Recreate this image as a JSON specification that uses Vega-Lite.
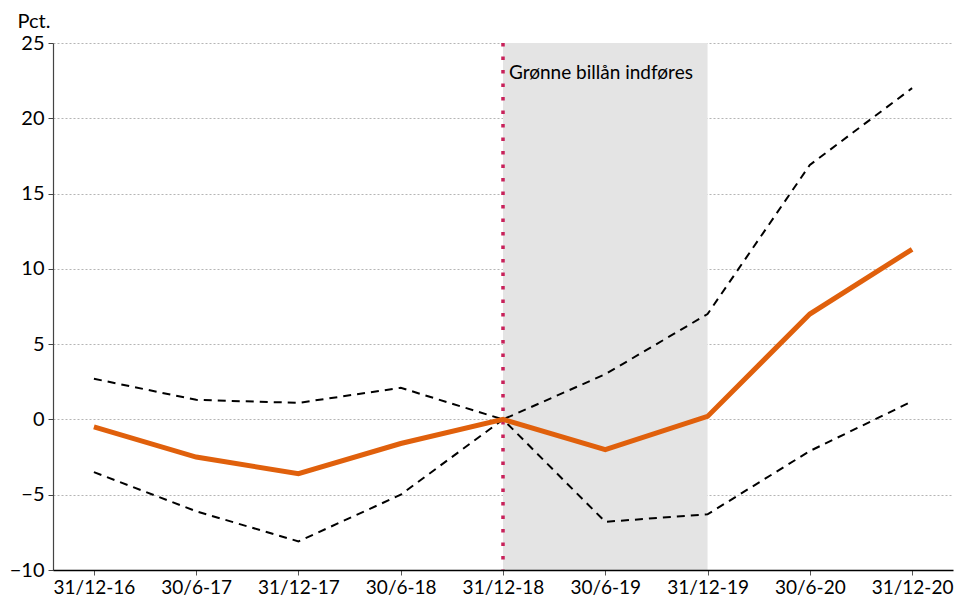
{
  "$schema": "https://vega.github.io/schema/vega-lite/v6.json",
  "width": 900,
  "height": 527,
  "autosize": {"type": "none"},
  "padding": {"left": 53, "top": 43, "right": 2, "bottom": 31},
  "background": "white",
  "config": {
    "view": {"stroke": null},
    "font": "Lato",
    "axis": {"labelFont": "Lato", "titleFont": "Lato"}
  },
  "datasets": {
    "series": [
      {"date": "31/12-16", "mid": -0.5, "upper": 2.7, "lower": -3.5},
      {"date": "30/6-17", "mid": -2.5, "upper": 1.3, "lower": -6.1},
      {"date": "31/12-17", "mid": -3.6, "upper": 1.1, "lower": -8.1},
      {"date": "30/6-18", "mid": -1.6, "upper": 2.1, "lower": -5.0},
      {"date": "31/12-18", "mid": 0.0, "upper": 0.0, "lower": 0.0},
      {"date": "30/6-19", "mid": -2.0, "upper": 3.0, "lower": -6.8},
      {"date": "31/12-19", "mid": 0.2, "upper": 7.0, "lower": -6.3},
      {"date": "30/6-20", "mid": 7.0, "upper": 16.9, "lower": -2.1},
      {"date": "31/12-20", "mid": 11.3, "upper": 22.0, "lower": 1.2}
    ],
    "period": [{"start": "31/12-18", "end": "31/12-19", "label": "Grønne billån indføres"}]
  },
  "encoding": {
    "x": {
      "field": "date",
      "type": "ordinal",
      "sort": null,
      "scale": {"type": "point", "padding": 0.4, "domain": ["31/12-16", "30/6-17", "31/12-17", "30/6-18", "31/12-18", "30/6-19", "31/12-19", "30/6-20", "31/12-20"]},
      "axis": {
        "title": null,
        "labelAngle": 0,
        "labelFontSize": 19,
        "labelColor": "#000",
        "labelPadding": 3,
        "domainColor": "#000",
        "domainWidth": 1.5,
        "tickColor": "#555",
        "tickSize": 5,
        "grid": false
      }
    }
  },
  "layer": [
    {
      "data": {"name": "period"},
      "mark": {"type": "rect", "color": "#e4e4e4"},
      "encoding": {
        "x": {"field": "start", "type": "ordinal"},
        "x2": {"field": "end"}
      }
    },
    {
      "data": {"name": "series"},
      "mark": {"type": "line", "color": "#000", "strokeWidth": 2, "strokeDash": [8, 6]},
      "encoding": {
        "y": {
          "field": "upper",
          "type": "quantitative",
          "scale": {"domain": [-10, 25], "nice": false, "zero": false},
          "axis": {
            "values": [-10, -5, 0, 5, 10, 15, 20, 25],
            "title": "Pct.",
            "titleAngle": 0,
            "titleAlign": "left",
            "titleBaseline": "alphabetic",
            "titleX": -36,
            "titleY": -16,
            "titleFontSize": 20,
            "titleFontWeight": "normal",
            "titleColor": "#000",
            "labelFontSize": 20,
            "labelColor": "#000",
            "labelPadding": 4,
            "domainColor": "#444",
            "domainWidth": 1.2,
            "tickColor": "#444",
            "tickSize": 5,
            "grid": true,
            "gridColor": "#b5b5b5",
            "gridDash": [2, 2],
            "gridWidth": 1
          }
        }
      }
    },
    {
      "data": {"name": "series"},
      "mark": {"type": "line", "color": "#000", "strokeWidth": 2, "strokeDash": [8, 6]},
      "encoding": {"y": {"field": "lower", "type": "quantitative"}}
    },
    {
      "mark": {"type": "rule", "color": "#000", "strokeWidth": 2},
      "encoding": {"y": {"datum": 0}}
    },
    {
      "data": {"name": "period"},
      "mark": {"type": "rule", "color": "#c8215a", "strokeWidth": 3.5, "strokeDash": [3.5, 10]},
      "encoding": {"x": {"field": "start", "type": "ordinal"}}
    },
    {
      "data": {"name": "period"},
      "mark": {"type": "text", "align": "left", "baseline": "alphabetic", "dx": 6, "fontSize": 19, "color": "#000"},
      "encoding": {
        "x": {"field": "start", "type": "ordinal"},
        "y": {"datum": 22.6},
        "text": {"field": "label"}
      }
    },
    {
      "data": {"name": "series"},
      "mark": {"type": "line", "color": "#e0600c", "strokeWidth": 5},
      "encoding": {"y": {"field": "mid", "type": "quantitative"}}
    }
  ]
}
